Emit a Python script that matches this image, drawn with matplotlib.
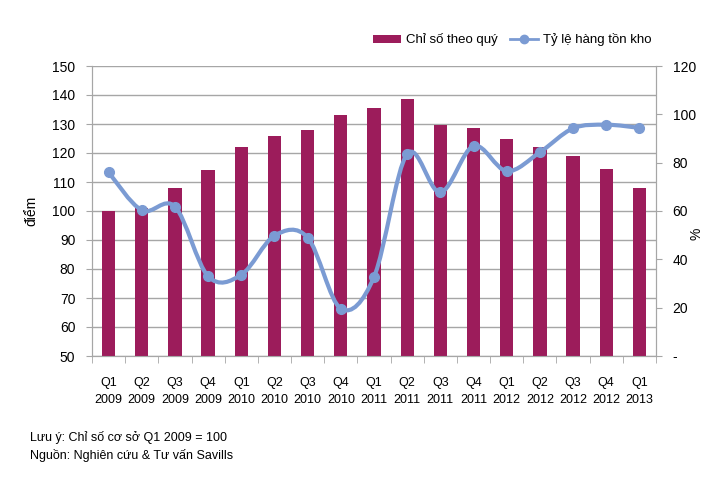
import numpy as np
import matplotlib.pyplot as plt
from matplotlib.path import Path
from matplotlib.patches import PathPatch
from matplotlib.lines import Line2D
from matplotlib.patches import Patch

quarters = ["Q1\n2009", "Q2\n2009", "Q3\n2009", "Q4\n2009",
            "Q1\n2010", "Q2\n2010", "Q3\n2010", "Q4\n2010",
            "Q1\n2011", "Q2\n2011", "Q3\n2011", "Q4\n2011",
            "Q1\n2012", "Q2\n2012", "Q3\n2012", "Q4\n2012",
            "Q1\n2013"]
index_values = [100, 101, 108, 114, 122, 126, 128, 133, 135.5, 138.5,
                129.5, 128.5, 125, 122, 119, 114.5, 108]
inventory_pct = [76, 60.3, 61.8, 33, 33.6, 49.8, 49, 19.6, 32.7, 83.6,
                 67.7, 86.9, 76.5, 84.3, 94.2, 95.7, 94.4]

left_ticks = list(range(50, 151, 10))
right_ticks = [0, 20, 40, 60, 80, 100, 120]
right_labels = ["-", "20", "40", "60", "80", "100", "120"]

BAR = "#9c1c5b"
LINE = "#7b9bd3"
GRID = "#a6a6a6"

plt.rcParams["font.family"] = ["Liberation Sans Narrow", "Liberation Sans", "DejaVu Sans"]

fig = plt.figure(figsize=(7.12, 4.91), dpi=100)
ax = fig.add_axes([92 / 712, 1 - 356 / 491, (656 - 92) / 712, (356 - 66) / 491])

x = np.arange(len(quarters))
ax.bar(x, np.array(index_values) - 50, bottom=50, width=0.4, color=BAR, zorder=3)
ax.set_ylim(50, 150)
ax.set_xlim(-0.5, len(quarters) - 0.5)
ax.set_yticks(left_ticks)
ax.tick_params(axis="y", labelsize=10, length=4, color=GRID, pad=8)
ax.yaxis.grid(True, color=GRID, linewidth=1, zorder=0)
ax.set_axisbelow(True)
ax.set_ylabel("điểm", fontsize=10)
ax.yaxis.set_label_coords(-54 / 564, 0.5)

ax.set_xticks(x)
ax.set_xticklabels(quarters, fontsize=9, linespacing=1.6)
ax.set_xticks(np.arange(-0.5, len(quarters)), minor=True)
ax.tick_params(axis="x", which="major", length=0, pad=15)
ax.tick_params(axis="x", which="minor", length=5, color=GRID)

ax.spines["top"].set_visible(False)
for side in ["left", "right", "bottom"]:
    ax.spines[side].set_color(GRID)

ax2 = ax.twinx()
ax2.set_ylim(0, 120)
ax2.set_yticks(right_ticks)
ax2.set_yticklabels(right_labels)
ax2.tick_params(axis="y", labelsize=10, length=4, color=GRID, pad=8)
ax2.set_ylabel("%", fontsize=10)
ax2.yaxis.set_label_coords((690 - 92) / 564, 0.42)
ax2.spines["top"].set_visible(False)
for side in ["left", "right", "bottom"]:
    ax2.spines[side].set_color(GRID)

# smoothed line (Catmull-Rom through the data points, like Excel's smoothing)
pts = np.column_stack([x, inventory_pct]).astype(float)
verts = [tuple(pts[0])]
codes = [Path.MOVETO]
for i in range(len(pts) - 1):
    p0 = pts[i - 1] if i > 0 else pts[i]
    p1 = pts[i]
    p2 = pts[i + 1]
    p3 = pts[i + 2] if i + 2 < len(pts) else pts[i + 1]
    c1 = p1 + (p2 - p0) / 6
    c2 = p2 - (p3 - p1) / 6
    verts += [tuple(c1), tuple(c2), tuple(p2)]
    codes += [Path.CURVE4] * 3
ax2.add_patch(PathPatch(Path(verts, codes), facecolor="none", edgecolor=LINE,
                        linewidth=3, zorder=4))
ax2.plot(x, inventory_pct, linestyle="none", marker="o", markersize=7,
         color=LINE, zorder=5)

handles = [Patch(facecolor=BAR, label="Chỉ số theo quý"),
           Line2D([0], [0], color=LINE, linewidth=2, marker="o", markersize=6,
                  label="Tỷ lệ hàng tồn kho")]
fig.legend(handles=handles, loc="center right", bbox_to_anchor=(658 / 712, 1 - 40 / 491),
           ncol=2, frameon=False, fontsize=9.5, handlelength=2.1, handletextpad=0.4,
           columnspacing=0.9, handleheight=0.6, borderpad=0)

fig.text(30 / 712, 1 - 437 / 491, "Lưu ý: Chỉ số cơ sở Q1 2009 = 100", fontsize=9, va="center")
fig.text(30 / 712, 1 - 456 / 491, "Nguồn: Nghiên cứu & Tư vấn Savills", fontsize=9, va="center")

fig.savefig("out.png", dpi=100)
